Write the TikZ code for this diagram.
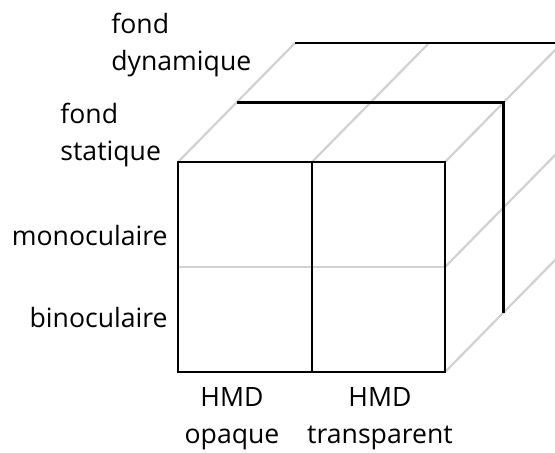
\documentclass[tikz,border=0pt]{standalone}
\usepackage{fontspec}
\setmainfont{Open Sans}
\usetikzlibrary{calc}

\begin{document}
\begin{tikzpicture}[x=0.5pt, y=-0.5pt,
                    edge/.style={line width=1.4pt, black},
                    guide/.style={line width=1.1pt, black!18},
                    lbl/.style={inner sep=0pt, font=\fontsize{13.3}{18.5}\selectfont}]
            \useasboundingbox (0,0) rectangle (555,452);
            \clip (0,0) rectangle (555,452);

            % Front face
            \coordinate (ftl) at (178,162);
            \coordinate (ftm) at (312,162);
            \coordinate (ftr) at (445,162);
            \coordinate (fml) at (178,267);
            \coordinate (fmr) at (445,267);
            \coordinate (fbm) at (312,372);
            \coordinate (fbr) at (445,372);
            \coordinate (d) at (58.5,-59.5);

            % Grey guide lines
            \draw[guide] (fml) -- (fmr);
            \draw[guide] (ftl) -- ($(ftl)+2*(d)$);
            \draw[guide] (ftm) -- ($(ftm)+2*(d)$);
            \foreach \c in {ftr,fmr,fbr}
                \draw[guide] (\c) -- ($(\c)+3*(d)$);

            % Layers
            \draw[edge] (ftl) rectangle (fbr);
            \draw[edge] (ftm) -- (fbm);
            \draw[edge] ($(ftl)+(d)$) -- ($(ftr)+(d)$) -- ($(fbr)+(d)$);
            \draw[edge] ($(ftl)+2*(d)$) -- ($(ftr)+2*(d)$) -- ($(fbr)+2*(d)$);

            % Labels
            \node[lbl, anchor=base west, align=left] (dyn) at (111,70) {fond\\dynamique};
            \node[lbl, anchor=base west, align=left] (stat) at (60,160) {fond\\statique};
            \node[lbl, anchor=base east] (mono) at (168,245) {monoculaire};
            \node[lbl, anchor=base east] (bino) at (168,327) {binoculaire};
            \node[lbl, anchor=base, align=center] (opq) at (232,443) {HMD\\opaque};
            \node[lbl, anchor=base, align=center] (trs) at (380,443) {HMD\\transparent};
        \end{tikzpicture}
\end{document}
